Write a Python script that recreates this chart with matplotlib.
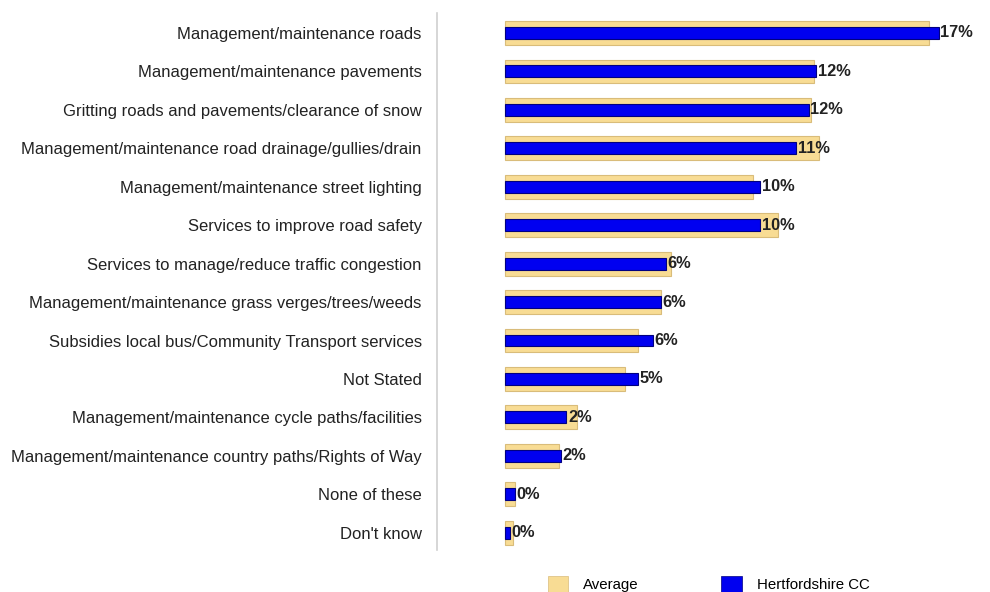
import matplotlib
matplotlib.use("Agg")
import matplotlib.pyplot as plt
from matplotlib.patches import Patch

# Survey categories, top to bottom
categories = [
    "Management/maintenance roads",
    "Management/maintenance pavements",
    "Gritting roads and pavements/clearance of snow",
    "Management/maintenance road drainage/gullies/drain",
    "Management/maintenance street lighting",
    "Services to improve road safety",
    "Services to manage/reduce traffic congestion",
    "Management/maintenance grass verges/trees/weeds",
    "Subsidies local bus/Community Transport services",
    "Not Stated",
    "Management/maintenance cycle paths/facilities",
    "Management/maintenance country paths/Rights of Way",
    "None of these",
    "Don't know",
]

# Percentages
average = [16.6, 12.1, 12.0, 12.3, 9.7, 10.7, 6.5, 6.1, 5.2, 4.7, 2.8, 2.1, 0.4, 0.3]
hertfordshire = [17.0, 12.2, 11.9, 11.4, 10.0, 10.0, 6.3, 6.1, 5.8, 5.2, 2.4, 2.2, 0.4, 0.2]

series_names = ["Average", "Hertfordshire CC"]

plt.rcParams["font.family"] = ["Liberation Sans", "DejaVu Sans"]

fig = plt.figure(figsize=(9.9, 5.92), dpi=100)
ax = fig.add_axes([437 / 990, 1 - 550 / 592, 553 / 990, (550 - 13) / 592])

y = list(range(len(categories)))
yellow = "#f8dc94"
yellow_edge = "#d9bc7a"
blue = "#0000f0"
blue_edge = "#000080"

ax.barh(y, average, height=0.62, color=yellow, edgecolor=yellow_edge,
        linewidth=0.8, label=series_names[0], zorder=2)
ax.barh(y, hertfordshire, height=0.31, color=blue, edgecolor=blue_edge,
        linewidth=0.8, label=series_names[1], zorder=3)

for yi, v in zip(y, hertfordshire):
    ax.text(v + 0.06, yi, f"{v:.0f}%", va="center", ha="left",
            fontsize=11.8, fontweight="bold", color="#222222", zorder=4)

ax.set_xlim(-2.67, 19.0)
ax.set_ylim(13.45, -0.52)

ax.set_yticks(y)
ax.set_yticklabels(categories, fontsize=12, color="#222222")
ax.tick_params(axis="y", length=0, pad=11)
ax.set_xticks([])

for side in ["top", "right", "bottom"]:
    ax.spines[side].set_visible(False)
ax.spines["left"].set_color("#d0d0d0")
ax.spines["left"].set_linewidth(1.2)

handles = [
    Patch(facecolor=yellow, edgecolor=yellow_edge, linewidth=0.5, label=series_names[0]),
    Patch(facecolor=blue, edgecolor=blue_edge, linewidth=0.5, label=series_names[1]),
]
fig.legend(handles=handles, loc="center left", bbox_to_anchor=(548 / 990, 1 - 584 / 592),
           ncol=2, frameon=False, fontsize=10.8, handlelength=1.35, handleheight=1.35,
           handletextpad=1.0, columnspacing=5.5, borderaxespad=0, borderpad=0)

fig.savefig("out.png", dpi=100)
